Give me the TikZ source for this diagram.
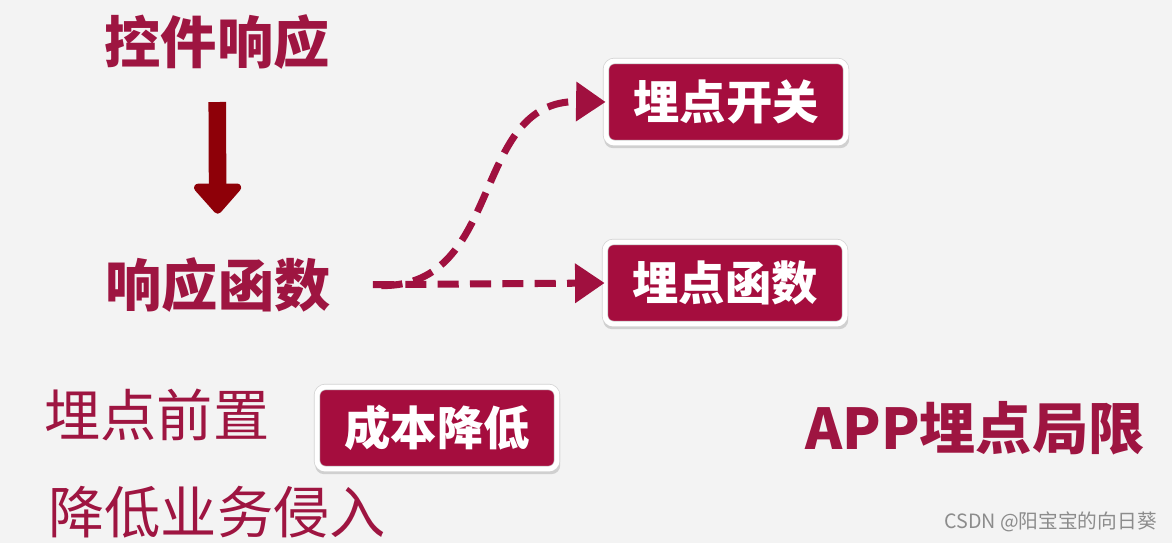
\documentclass[tikz,border=0pt]{standalone}
\usepackage{fontspec}
\newfontfamily\cjk{Noto Sans CJK SC}
\usetikzlibrary{arrows.meta,shadows}
\definecolor{titlered}{HTML}{9E1541}
\definecolor{boxred}{HTML}{A50D3E}
\definecolor{dashred}{HTML}{A0103F}
\definecolor{downred}{HTML}{8E0008}
\definecolor{paper}{HTML}{F3F3F3}

\begin{document}
\begin{tikzpicture}[x=0.025cm, y=-0.025cm,
    heading/.style={font=\cjk\bfseries\fontsize{40}{40}\selectfont, text=titlered, inner sep=0pt},
    plain/.style={font=\cjk\fontsize{40}{40}\selectfont, text=titlered, inner sep=0pt},
    tag/.style={rounded corners=6pt, fill=boxred, draw=black!18, line width=0.5pt,
        double=white, double distance=3.5pt,
        minimum width=6cm, minimum height=2.05cm, inner sep=0pt,
        text=white, font=\cjk\bfseries\fontsize{33}{33}\selectfont,
        drop shadow={opacity=0.3, shadow xshift=0.5pt, shadow yshift=-3pt, shadow scale=1.02}},
    hint/.style={draw=dashred, line width=5pt, dash pattern=on 15pt off 8pt,
        -{Triangle[width=27pt, length=21pt]}}]
  \fill[paper] (0,0) rectangle (1172,543);
  \useasboundingbox (0,0) rectangle (1172,543);

  % left column
  \node[heading] (ctrl)  at (217, 42) {控件响应};
  \node[heading] (resp)  at (218,285) {响应函数};
  \node[plain]   (front) at (157,415) {埋点前置};
  \node[plain]   (less)  at (217,512) {降低业务侵入};

  % boxes
  \node[tag] (switch) at (726,102) {埋点开关};
  \node[tag] (func)   at (725,283) {埋点函数};
  \node[tag] (cost)   at (437,428) {成本降低};

  \node[heading] (limit) at (975,428) {APP埋点局限};
  \node[font=\cjk\fontsize{14}{14}\selectfont, text=black!45, anchor=east, inner sep=0pt]
      (mark) at (1157,522) {CSDN @阳宝宝的向日葵};

  % connectors
  \draw[downred, line width=12.5pt, shorten <=23pt, shorten >=31pt,
        -{Triangle[width=39pt, length=23pt, round]}] (ctrl) -- (resp);
  \draw[hint, shorten <=30pt] (resp.east) -- (func.west);
  \draw[hint, shorten <=36pt] (resp.east) .. controls (505,287) and (470,100) .. (switch.west);
\end{tikzpicture}
\end{document}
